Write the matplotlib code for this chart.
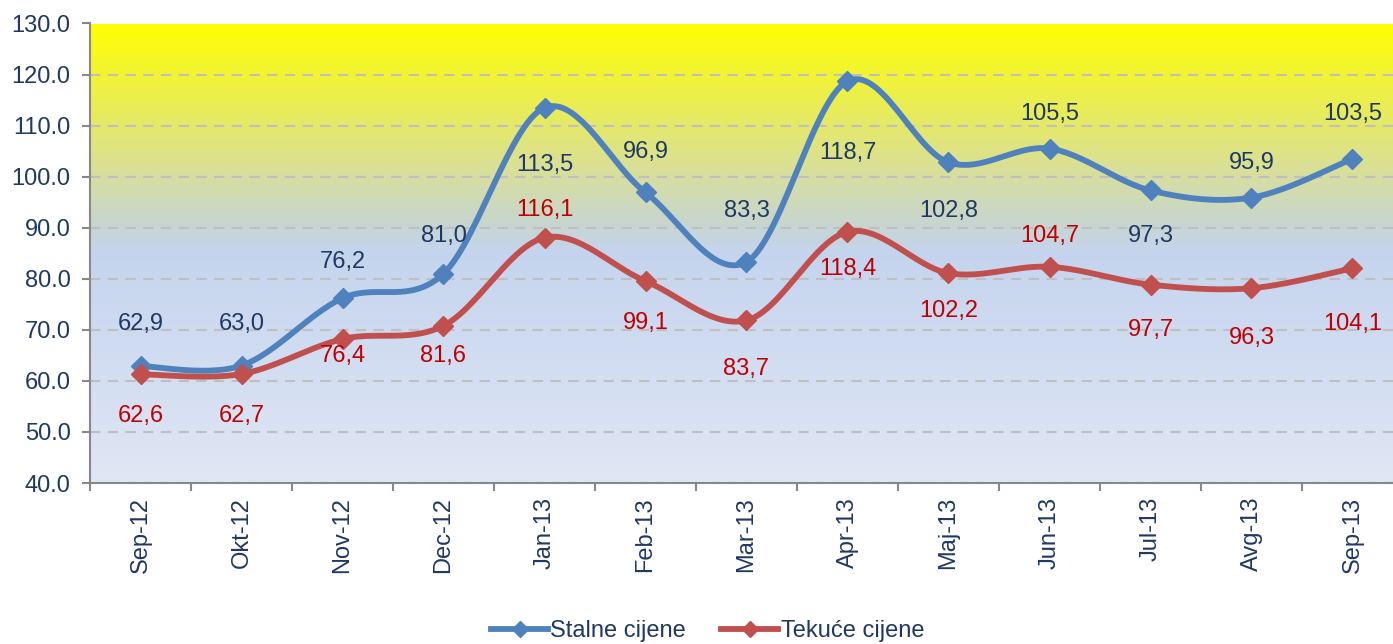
import numpy as np
import matplotlib
matplotlib.use('Agg')
import matplotlib.pyplot as plt
from matplotlib.lines import Line2D

plt.rcParams['font.family'] = ['Liberation Sans', 'DejaVu Sans']

# Data
months = ['Sep-12', 'Okt-12', 'Nov-12', 'Dec-12', 'Jan-13', 'Feb-13', 'Mar-13',
          'Apr-13', 'Maj-13', 'Jun-13', 'Jul-13', 'Avg-13', 'Sep-13']
stalne = [62.9, 63.0, 76.2, 81.0, 113.5, 96.9, 83.3, 118.7, 102.8, 105.5, 97.3, 95.9, 103.5]
tekuce = [62.6, 62.7, 76.4, 81.6, 116.1, 99.1, 83.7, 118.4, 102.2, 104.7, 97.7, 96.3, 104.1]

# label offsets in points (negative = above the point)
stalne_off = [-30, -30, -26, -27, 41, -29, -37, 52, 35, -25, 33, -25, -32]
tekuce_off = [30, 30, 12, 22, -20, 30, 35, 27, 27, -22, 33, 36, 40]

BLUE = '#4F81BD'
RED = '#C0504D'
NAVY = '#1F3864'
LBL_RED = '#C00000'
FS = 17


def smooth(y, n=30):
    # Catmull-Rom curve through the points (like Excel's smoothed line)
    y = np.asarray(y, float)
    x = np.arange(len(y), dtype=float)
    P = np.column_stack([x, y])
    P = np.vstack([P[0], P, P[-1]])
    out = []
    t = np.linspace(0, 1, n)[:, None]
    for i in range(1, len(P) - 2):
        p0, p1, p2, p3 = P[i - 1], P[i], P[i + 1], P[i + 2]
        c1 = p1 + (p2 - p0) / 6
        c2 = p2 - (p3 - p1) / 6
        seg = ((1 - t) ** 3) * p1 + 3 * ((1 - t) ** 2) * t * c1 + 3 * (1 - t) * t ** 2 * c2 + t ** 3 * p2
        out.append(seg if i == 1 else seg[1:])
    seg = np.vstack(out)
    return seg[:, 0], seg[:, 1]


fig = plt.figure(figsize=(13.93, 6.44), dpi=100)
ax = fig.add_axes([90 / 1393, 161 / 644, 1313 / 1393, 459.5 / 644])

# background gradient
stops = [0.0, 0.5, 0.57, 0.667, 0.85, 1.0]
cols = np.array([[224, 231, 245], [197, 212, 238], [200, 214, 205],
                 [215, 222, 160], [237, 240, 70], [255, 255, 0]]) / 255
yy = np.linspace(0, 1, 400)
grad = np.stack([np.interp(yy, stops, cols[:, k]) for k in range(3)], axis=1)
grad = grad[::-1][:, None, :]
ax.imshow(grad, extent=[0, 1, 0, 1], transform=ax.transAxes, aspect='auto', zorder=-1)

x = np.arange(len(months))
ax.set_xlim(-0.5, len(months) - 0.5)
ax.set_ylim(40, 130)
ax.set_yticks(np.arange(40, 131, 10))
ax.set_yticklabels([f'{v:.1f}' for v in np.arange(40, 131, 10)])
ax.set_axisbelow(True)
ax.yaxis.grid(True, color='#BFBFBF', linestyle=(0, (5, 3.5)), linewidth=1.5)

sx, sy = smooth(stalne)
ax.plot(sx, sy, color=BLUE, lw=4.2, solid_capstyle='round', zorder=3)
ax.plot(x, stalne, 'D', color=BLUE, ms=10, zorder=4)
for xi, v, o in zip(x, stalne, stalne_off):
    ax.annotate(f'{v:.1f}'.replace('.', ','), (xi, v), xytext=(0, -o), textcoords='offset points',
                ha='center', va='center', fontsize=FS, color=NAVY, zorder=5)

# secondary (hidden) axis for the current-price series
ax2 = ax.twinx()
ax2.set_ylim(20, 200)
ax2.set_xlim(-0.5, len(months) - 0.5)
ax2.axis('off')
rx, ry = smooth(tekuce)
ax2.plot(rx, ry, color=RED, lw=4.2, solid_capstyle='round', zorder=3)
ax2.plot(x, tekuce, 'D', color=RED, ms=10, zorder=4)
for xi, v, o in zip(x, tekuce, tekuce_off):
    ax2.annotate(f'{v:.1f}'.replace('.', ','), (xi, v), xytext=(0, -o), textcoords='offset points',
                 ha='center', va='center', fontsize=FS, color=LBL_RED, zorder=5)

# axes styling
for s in ['top', 'right']:
    ax.spines[s].set_visible(False)
for s in ['left', 'bottom']:
    ax.spines[s].set_color('#888888')
    ax.spines[s].set_linewidth(1.5)
ax.set_xticks(np.arange(-0.5, len(months), 1.0))
ax.set_xticklabels([])
ax.set_xticks(x, minor=True)
ax.set_xticklabels(months, minor=True, rotation=90, fontsize=FS, color=NAVY)
ax.tick_params(axis='x', which='minor', length=0, pad=10)
ax.tick_params(axis='x', which='major', length=6, width=1.5, color='#888888')
ax.tick_params(axis='y', length=6, width=1.5, color='#888888', labelsize=FS, labelcolor=NAVY, pad=8)

handles = [Line2D([], [], color=BLUE, lw=4.2, marker='D', ms=8),
           Line2D([], [], color=RED, lw=4.2, marker='D', ms=8)]
fig.legend(handles, ['Stalne cijene', 'Tekuće cijene'], loc='lower center',
           bbox_to_anchor=(0.508, -0.03), ncol=2, frameon=False, fontsize=FS,
           handlelength=2.4, handletextpad=0.1, columnspacing=1.5, labelcolor=NAVY)

fig.savefig('out.png', dpi=100)
